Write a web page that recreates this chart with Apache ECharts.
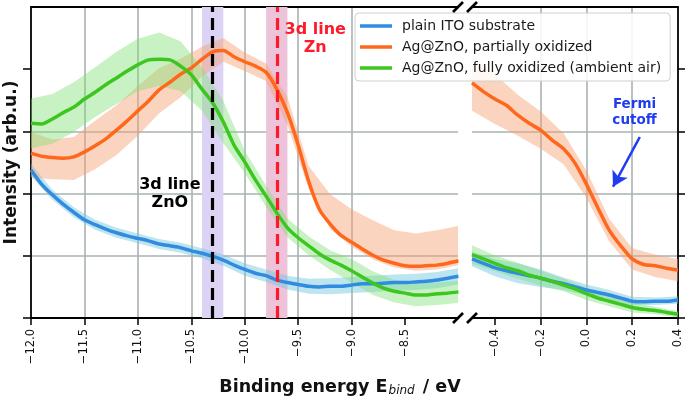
<!DOCTYPE html>
<html><head><meta charset="utf-8">
<script src="https://cdn.jsdelivr.net/npm/echarts@6/dist/echarts.min.js"></script>
<style>html,body{margin:0;padding:0;background:#fff}#c{width:685px;height:400px}</style>
</head><body><div id="c"></div>
<script>
// ---------------- DATA ----------------
const seriesNames = ['plain ITO substrate', 'Ag@ZnO, partially oxidized', 'Ag@ZnO, fully oxidized (ambient air)'];

// left panel (valence band region)
const eLeft = [-12.0,-11.9,-11.8,-11.7,-11.6,-11.5,-11.4,-11.3,-11.2,-11.1,-11.0,-10.9,-10.8,-10.7,-10.6,-10.5,-10.4,-10.3,-10.2,-10.1,-10.0,-9.9,-9.8,-9.7,-9.6,-9.5,-9.4,-9.3,-9.2,-9.1,-9.0,-8.9,-8.8,-8.7,-8.6,-8.5,-8.4,-8.3,-8.2,-8.1,-8.0];
const itoLeft  = [2.38,2.15,1.98,1.83,1.70,1.58,1.50,1.43,1.37,1.32,1.28,1.24,1.19,1.16,1.13,1.08,1.04,0.99,0.93,0.85,0.78,0.72,0.68,0.61,0.57,0.54,0.51,0.50,0.51,0.51,0.53,0.55,0.55,0.56,0.57,0.57,0.58,0.59,0.61,0.64,0.67];
const partLeft = [2.65,2.60,2.58,2.57,2.59,2.67,2.77,2.88,3.02,3.17,3.33,3.49,3.67,3.79,3.92,4.02,4.16,4.28,4.30,4.20,4.12,4.05,3.95,3.68,3.30,2.78,2.19,1.74,1.51,1.33,1.22,1.11,1.01,0.93,0.88,0.84,0.83,0.84,0.85,0.88,0.92];
const fullLeft = [3.13,3.12,3.20,3.30,3.39,3.52,3.63,3.75,3.86,3.97,4.07,4.15,4.16,4.15,4.05,3.91,3.68,3.46,3.15,2.78,2.51,2.22,1.96,1.69,1.45,1.29,1.16,1.03,0.93,0.85,0.76,0.66,0.56,0.48,0.43,0.40,0.37,0.37,0.39,0.40,0.42];
// uncertainty bands, left panel
const eBandLeft   = [-12.0,-11.8,-11.6,-11.4,-11.2,-11.0,-10.8,-10.6,-10.4,-10.2,-10.0,-9.8,-9.6,-9.4,-9.2,-9.0,-8.8,-8.6,-8.4,-8.2,-8.0];
const itoErrLeft  = [0.10,0.08,0.08,0.08,0.08,0.08,0.08,0.08,0.08,0.09,0.10,0.10,0.11,0.12,0.13,0.13,0.13,0.13,0.13,0.13,0.13];
const partUpLeft  = [0.34,0.29,0.32,0.40,0.40,0.40,0.35,0.25,0.20,0.20,0.15,0.14,0.25,0.25,0.48,0.53,0.56,0.53,0.53,0.56,0.56];
const partDnLeft  = [0.39,0.35,0.37,0.38,0.40,0.40,0.38,0.37,0.28,0.18,0.15,0.14,0.20,0.12,0.08,0.07,0.07,0.07,0.07,0.07,0.07];
const fullErrLeft = [0.40,0.40,0.40,0.40,0.42,0.42,0.43,0.40,0.35,0.34,0.18,0.17,0.15,0.15,0.16,0.19,0.19,0.18,0.18,0.18,0.18];

// right panel (Fermi edge region)
const eRight    = [-0.5,-0.45,-0.4,-0.35,-0.3,-0.25,-0.2,-0.15,-0.1,-0.05,0.0,0.05,0.1,0.15,0.2,0.25,0.3,0.35,0.4];
const itoRight  = [0.95,0.88,0.81,0.76,0.72,0.68,0.64,0.59,0.55,0.50,0.45,0.41,0.37,0.32,0.27,0.26,0.27,0.27,0.29];
const partRight = [3.78,3.64,3.52,3.42,3.26,3.13,3.02,2.86,2.72,2.49,2.15,1.77,1.41,1.16,0.95,0.86,0.84,0.80,0.77];
const fullRight = [1.02,0.95,0.88,0.81,0.76,0.69,0.64,0.59,0.53,0.47,0.39,0.32,0.27,0.22,0.17,0.14,0.12,0.09,0.06];
const eBandRight   = [-0.5,-0.4,-0.3,-0.2,-0.1,0.0,0.1,0.2,0.3,0.4];
const itoErrRight  = [0.12,0.14,0.16,0.14,0.10,0.09,0.08,0.07,0.06,0.06];
const partErrRight = [0.45,0.40,0.33,0.30,0.25,0.22,0.18,0.17,0.18,0.18];
const fullErrRight = [0.15,0.13,0.13,0.12,0.10,0.10,0.08,0.08,0.06,0.05];

// axes
const xTicksLeft  = [-12.0,-11.5,-11.0,-10.5,-10.0,-9.5,-9.0,-8.5];
const xTicksRight = [-0.4,-0.2,0.0,0.2,0.4];
const yTicks = [0,1,2,3,4];
const xLeftRange  = [-12.0, -8.004];
const xRightRange = [-0.5, 0.4];
const yRange = [0, 5];

// reference lines / zones / annotations
const zoneZnO = [-10.4, -10.2];
const lineZnO = -10.3;
const zoneZn  = [-9.8, -9.6];
const lineZn  = -9.7;
const annoZn    = [-9.34, 4.49];
const annoZnO   = [-10.70, 1.99];
const annoFermi = [0.21, 3.30];
const arrowFrom = [0.233, 2.91];
const arrowTo   = [0.116, 2.11];

// ---------------- STYLE ----------------
const FONT = '"DejaVu Sans", sans-serif';
const C_BLUE = '#318be0', C_ORANGE = '#ff681c', C_GREEN = '#3dc61f';
const B_BLUE = '#6cc6de', B_ORANGE = '#f4a070', B_GREEN = '#7ee072';
const GRIDC = '#a9b2b2';
const fmt = v => (Math.abs(v) < 1e-9 ? 0 : v).toFixed(1).replace('-', '\u2212');

function lineSeries(name, xi, xs, ys, color, extra) {
  return Object.assign({
    type: 'line', name: name, xAxisIndex: xi, yAxisIndex: xi,
    data: xs.map((x, i) => [x, ys[i]]),
    symbol: 'none', smooth: 0.25,
    lineStyle: { color: color, width: 3.5 }, itemStyle: { color: color },
    emphasis: { disabled: true }, z: 2
  }, extra || {});
}
// band = polygon through upper edge then lower edge (reversed), placed via the axes' scales
function bandSeries(id, xi, xs, ys, xb, up, dn, color, op) {
  const idx = xb.map(x => xs.findIndex(e => Math.abs(e - x) < 1e-9));
  const upper = xb.map((x, i) => [x, ys[idx[i]] + up[i]]);
  const lower = xb.map((x, i) => [x, ys[idx[i]] - dn[i]]);
  const verts = upper.concat(lower.slice().reverse());
  return {
    type: 'custom', name: id, xAxisIndex: xi, yAxisIndex: xi, silent: true, z: 2, clip: true,
    data: verts,
    renderItem: function (params, api) {
      if (params.dataIndex !== 0) return null;
      return { type: 'polygon', shape: { points: verts.map(p => api.coord(p)) },
               style: { fill: color, opacity: op } };
    }
  };
}

const series = [];
// left panel
series.push(lineSeries(seriesNames[0], 0, eLeft, itoLeft, C_BLUE, {
  markArea: { silent: true, data: [
    [{ xAxis: zoneZnO[0], itemStyle: { color: '#ddd3f4' } }, { xAxis: zoneZnO[1] }],
    [{ xAxis: zoneZn[0],  itemStyle: { color: '#edc3d9' } }, { xAxis: zoneZn[1] }]
  ] }
}));
series.push(bandSeries('itoL', 0, eLeft, itoLeft, eBandLeft, itoErrLeft, itoErrLeft, B_BLUE, 0.45));
series.push(lineSeries(seriesNames[1], 0, eLeft, partLeft, C_ORANGE));
series.push(bandSeries('partL', 0, eLeft, partLeft, eBandLeft, partUpLeft, partDnLeft, B_ORANGE, 0.45));
series.push(lineSeries(seriesNames[2], 0, eLeft, fullLeft, C_GREEN, {
  markLine: { silent: true, symbol: ['none', 'none'], label: { show: false }, animation: false,
    data: [
      { xAxis: lineZnO, lineStyle: { color: '#000000', width: 3.2, type: [12, 6] } },
      { xAxis: lineZn,  lineStyle: { color: '#ff1a2a', width: 3.2, type: [12, 6] } }
    ] }
}));
series.push(bandSeries('fullL', 0, eLeft, fullLeft, eBandLeft, fullErrLeft, fullErrLeft, B_GREEN, 0.42));
// right panel
series.push(lineSeries(seriesNames[0], 1, eRight, itoRight, C_BLUE));
series.push(bandSeries('itoR', 1, eRight, itoRight, eBandRight, itoErrRight, itoErrRight, B_BLUE, 0.45));
series.push(lineSeries(seriesNames[1], 1, eRight, partRight, C_ORANGE));
series.push(bandSeries('partR', 1, eRight, partRight, eBandRight, partErrRight, partErrRight, B_ORANGE, 0.45));
series.push(lineSeries(seriesNames[2], 1, eRight, fullRight, C_GREEN, {
  markLine: { silent: true, symbol: ['none', 'arrow'], symbolSize: [13, 15], label: { show: false }, animation: false,
    lineStyle: { color: '#1f3cf0', width: 2.6, type: 'solid' },
    data: [[{ coord: arrowFrom }, { coord: arrowTo }]] }
}));
series.push(bandSeries('fullR', 1, eRight, fullRight, eBandRight, fullErrRight, fullErrRight, B_GREEN, 0.42));

const spine = { show: true, onZero: false, lineStyle: { color: '#000', width: 1.8 } };
function bottomX(gi, range, ticks, extra) {
  return Object.assign({
    gridIndex: gi, type: 'value', position: 'bottom', min: range[0], max: range[1],
    axisLine: spine,
    axisTick: { show: true, length: 7, inside: false, customValues: ticks, lineStyle: { color: '#000', width: 1.5 } },
    axisLabel: { customValues: ticks, rotate: 90, margin: 11, formatter: fmt, fontFamily: FONT, fontSize: 11.5, color: '#111' },
    splitLine: { show: true, showMinLine: false, showMaxLine: false, lineStyle: { color: GRIDC, width: 1.6 } }
  }, extra);
}
function topX(gi, range) {
  return { gridIndex: gi, type: 'value', position: 'top', min: range[0], max: range[1],
    axisLine: spine, axisTick: { show: false }, axisLabel: { show: false }, splitLine: { show: false } };
}
function yAx(gi, pos) {
  return { gridIndex: gi, type: 'value', position: pos, min: yRange[0], max: yRange[1], interval: 1,
    axisLine: spine,
    axisTick: { show: true, length: 8, customValues: yTicks, lineStyle: { color: '#000', width: 1.5 } },
    axisLabel: { show: false },
    splitLine: { show: true, showMaxLine: false, lineStyle: { color: GRIDC, width: 1.6 } } };
}

const option = {
  animation: false,
  backgroundColor: '#ffffff',
  grid: [
    { left: 31, top: 7, width: 427, height: 311 },
    { left: 472, top: 7, width: 206, height: 311 }
  ],
  xAxis: [
    bottomX(0, xLeftRange, xTicksLeft, { interval: 0.5 }),
    bottomX(1, xRightRange, xTicksRight, { minInterval: 0.2, maxInterval: 0.2 }),
    topX(0, xLeftRange),
    topX(1, xRightRange)
  ],
  yAxis: [ yAx(0, 'left'), yAx(1, 'right') ],
  legend: {
    data: seriesNames, orient: 'vertical', left: 355, top: 13,
    padding: [6, 9, 6, 5], itemGap: 7, itemWidth: 32, itemHeight: 3.5, icon: 'rect',
    backgroundColor: 'rgba(255,255,255,0.85)', borderColor: '#cfcfcf', borderWidth: 1, borderRadius: 4,
    textStyle: { fontFamily: FONT, fontSize: 14, color: '#1a1a1a', padding: [0, 0, 0, 5] },
    selectedMode: false, z: 10
  },
  series: series
};

const chart = echarts.init(document.getElementById('c'), null, { renderer: 'canvas' });
chart.setOption(option);

function px(g, p) { return chart.convertToPixel({ gridIndex: g }, p); }
const graphics = [];
// axis break marks
[px(0, [xLeftRange[1], yRange[0]]), px(0, [xLeftRange[1], yRange[1]]),
 px(1, [xRightRange[0], yRange[0]]), px(1, [xRightRange[0], yRange[1]])].forEach(p => {
  graphics.push({ type: 'line', z: 100, shape: { x1: p[0] - 5, y1: p[1] + 5, x2: p[0] + 5, y2: p[1] - 5 },
    style: { stroke: '#000', lineWidth: 2.6 } });
});
function note(p, text, color, size) {
  graphics.push({ type: 'text', z: 100, x: p[0], y: p[1],
    style: { text: text, fill: color, font: 'bold ' + size + 'px ' + FONT, lineHeight: Math.round(size * 1.15),
      align: 'center', verticalAlign: 'middle', textAlign: 'center', textVerticalAlign: 'middle' } });
}
note(px(0, annoZn), '3d line\nZn', '#ff1a2a', 16);
note(px(0, annoZnO), '3d line\nZnO', '#000000', 16);
note(px(1, annoFermi), 'Fermi\ncutoff', '#1f3cf0', 13.5);
// axis titles
graphics.push({ type: 'text', z: 100, x: 12, y: 162.5, rotation: Math.PI / 2,
  style: { text: 'Intensity (arb.u.)', fill: '#111', font: 'bold 17px ' + FONT,
    align: 'center', verticalAlign: 'middle', textAlign: 'center', textVerticalAlign: 'middle' } });
graphics.push({ type: 'text', z: 100, x: 340, y: 387,
  style: { text: '{m|Binding energy E}{s|bind}{m| / eV}', align: 'center', verticalAlign: 'middle',
    textAlign: 'center', textVerticalAlign: 'middle',
    rich: { m: { font: 'bold 17.5px ' + FONT, fill: '#111', lineHeight: 20 },
            s: { font: 'italic 12px ' + FONT, fill: '#111', lineHeight: 9, verticalAlign: 'bottom', padding: [0, 2, 0, 1] } } } });
chart.setOption({ graphic: graphics });
</script>
</body></html>
